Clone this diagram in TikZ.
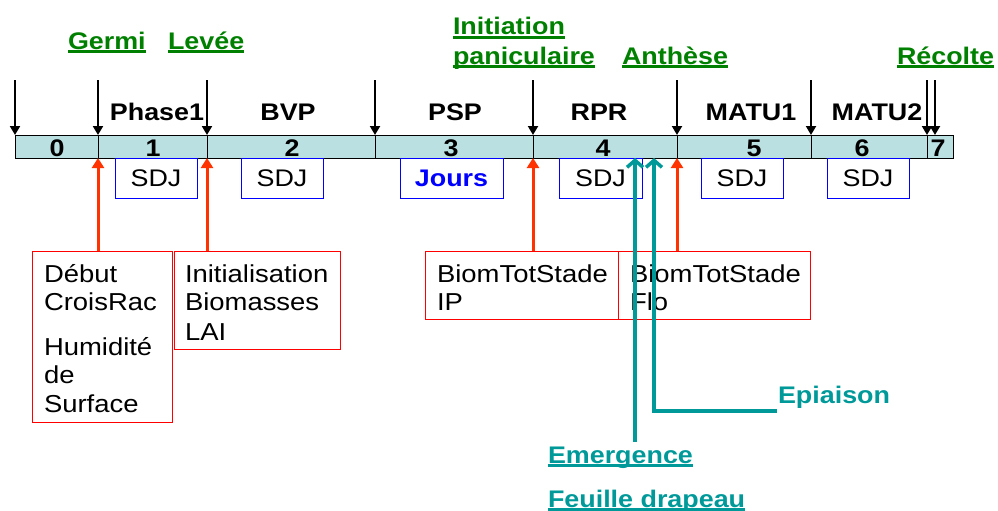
\documentclass[tikz,border=0pt]{standalone}
\usepackage{fontspec}
\setmainfont[FakeStretch=1.12]{Liberation Sans}
\usetikzlibrary{arrows.meta}
\definecolor{barfill}{RGB}{187,224,226}
\definecolor{grn}{RGB}{0,128,0}
\definecolor{tealc}{RGB}{0,153,153}
\definecolor{redarr}{RGB}{255,51,0}
\definecolor{boxred}{RGB}{255,0,0}
\definecolor{sdjblue}{RGB}{0,0,255}
\newcommand\ulx[1]{\setbox0=\hbox{#1}\rlap{\rule[-3.6pt]{\wd0}{2.4pt}}\box0}
\tikzset{
  every node/.style={inner sep=0pt, outer sep=0pt},
  txt/.style={font=\fontsize{24}{29}\selectfont},
  bld/.style={font=\fontsize{24}{29}\selectfont\bfseries},
  stage/.style={bld, text=grn, anchor=base west},
  phase/.style={bld, anchor=base},
  num/.style={bld, anchor=base},
  sdj/.style={draw=sdjblue, line width=1pt, minimum height=40pt, txt},
  redbox/.style={draw=boxred, line width=1pt, anchor=north west},
  ltxt/.style={font=\fontsize{24.5}{29}\selectfont, anchor=base west},
  blackarr/.style={line width=2pt, -{Triangle[length=9pt,width=10pt]}},
  redarrow/.style={draw=redarr, line width=3pt, -{Triangle[length=10pt,width=12pt]}},
  tealarr/.style={draw=tealc, line width=3.5pt, -{Straight Barb[length=7pt,width=16pt]}},
}
\begin{document}
\begin{tikzpicture}[x=1pt,y=-1pt]
\useasboundingbox (0,0) rectangle (998,511);
% stage labels
\node[stage] (germi) at (68,49) {\ulx{Germi}};
\node[stage] (levee) at (168,49) {\ulx{Levée}};
\node[stage] (init) at (453,35) {\ulx{Initiation}};
\node[stage] (panic) at (453,64) {\ulx{paniculaire}};
\node[stage] (anth) at (622,64) {\ulx{Anthèse}};
\node[stage] (recol) at (897,64) {\ulx{Récolte}};
% bar
\node[draw, line width=1pt, fill=barfill, minimum width=938pt, minimum height=23pt, anchor=north west] (bar) at (15,135) {};
\foreach \x [count=\i] in {15,98,207,375,533,677,811,927,935}
  \coordinate (t\i) at (\x,135);
\foreach \i in {2,3,4,5,6,7,8}
  \draw[line width=1pt] (t\i) -- (t\i |- bar.south);
\foreach \i in {1,...,9}
  \draw[blackarr] ([yshift=55pt]t\i) -- (t\i);
% phase names
\node[phase] (ph1) at (157,120) {Phase1};
\node[phase] (ph2) at (288,120) {BVP};
\node[phase] (ph3) at (455,120) {PSP};
\node[phase] (ph4) at (599,120) {RPR};
\node[phase] (ph5) at (751,120) {MATU1};
\node[phase] (ph6) at (877,120) {MATU2};
% numbers
\foreach \x/\n in {57/0,153/1,292/2,451/3,603/4,754/5,862/6,938/7}
  \node[num] (n\n) at (\x,156) {\n};
% SDJ boxes
\node[sdj, minimum width=82pt] (s1) at (156,178) {SDJ};
\node[sdj, minimum width=82pt] (s2) at (282,178) {SDJ};
\node[sdj, minimum width=103pt, text=sdjblue, font=\fontsize{24}{29}\selectfont\bfseries] (s3) at (451.5,178) {Jours};
\node[sdj, minimum width=83pt] (s4) at (600.5,178) {SDJ};
\node[sdj, minimum width=82pt] (s5) at (742,178) {SDJ};
\node[sdj, minimum width=82pt] (s6) at (868,178) {SDJ};
% red boxes
\node[redbox, minimum width=140pt, minimum height=171pt] (rA) at (32,251) {};
\node[redbox, minimum width=166pt, minimum height=98pt] (rB) at (174,251) {};
\node[redbox, minimum width=193pt, minimum height=68pt] (rC) at (425,251) {};
\node[redbox, minimum width=192pt, minimum height=68pt] (rD) at (618,251) {};
\node[ltxt] (a1) at (44,282) {Début};
\node[ltxt] (a2) at (44,310) {CroisRac};
\node[ltxt] (a3) at (44,355) {Humidité};
\node[ltxt] (a4) at (44,383) {de};
\node[ltxt] (a5) at (44,412) {Surface};
\node[ltxt] (b1) at (185,282) {Initialisation};
\node[ltxt] (b2) at (185,310) {Biomasses};
\node[ltxt] (b3) at (185,340) {LAI};
\node[ltxt] (c1) at (437,282) {BiomTotStade};
\node[ltxt] (c2) at (437,310) {IP};
\node[ltxt] (d1) at (630,282) {BiomTotStade};
\node[ltxt] (d2) at (630,310) {Flo};
% red arrows
\draw[redarrow] (rA.north -| t2) -- (t2 |- bar.south);
\draw[redarrow] (rB.north -| t3) -- (t3 |- bar.south);
\draw[redarrow] (rC.north -| t5) -- (t5 |- bar.south);
\draw[redarrow] (rD.north -| t6) -- (t6 |- bar.south);
% teal arrows and labels
\node[bld, text=tealc, anchor=base west] (epi) at (778,403) {Epiaison};
\node[bld, text=tealc, anchor=base west] (emer) at (548,463) {\ulx{Emergence}};
\node[bld, text=tealc, anchor=base west] (feuil) at (548,507) {\ulx{Feuille drapeau}};
\coordinate (em) at (635,442);
\coordinate (epL) at (777,411);
\coordinate (epC) at (654,411);
\draw[tealarr] (em) -- (em |- bar.south);
\draw[tealarr] (epL) -- (epC) -- (epC |- bar.south);
\end{tikzpicture}
\end{document}
